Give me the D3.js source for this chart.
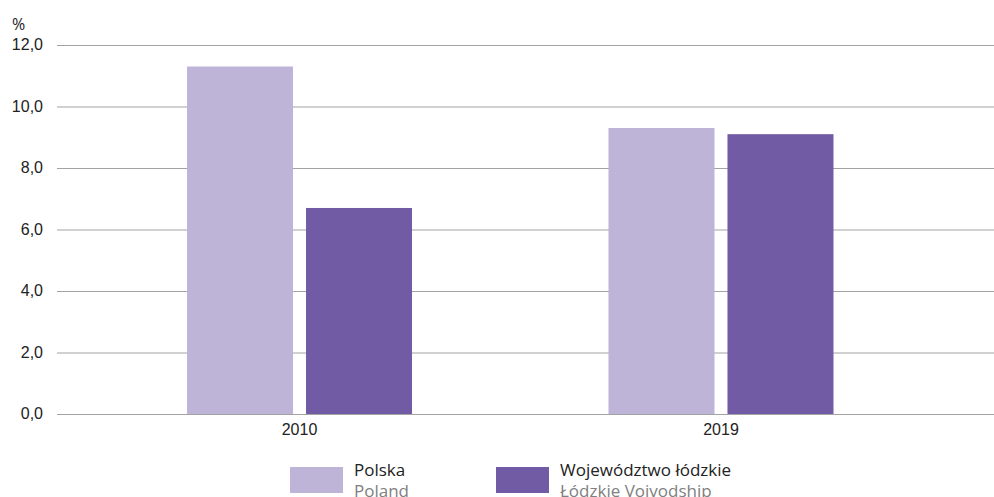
<!DOCTYPE html>
<html>
<head>
<meta charset="utf-8">
<script src="https://cdn.jsdelivr.net/npm/d3@7"></script>
<style>
  html, body { margin: 0; padding: 0; background: #fff; }
  svg { display: block; font-family: "Open Sans", sans-serif; }
</style>
</head>
<body>
<svg id="chart" width="994" height="497"></svg>
<script>
// Years on the category axis
const years = ["2010", "2019"];
// Series: Poland and Łódzkie Voivodship (%)
const seriesKeys = ["polska", "lodzkie"];
const seriesNames = ["Polska", "Województwo łódzkie"];
const seriesNamesEn = ["Poland", "Łódzkie Voivodship"];
const polskaValues = [11.3, 9.3];
const lodzkieValues = [6.7, 9.1];
const yTicks = [0, 2, 4, 6, 8, 10, 12];
const colors = ["#bdb4d7", "#715ba5"];

const svg = d3.select("#chart");
const plotLeft = 57, plotRight = 994, plotTop = 45, plotBottom = 414;

const y = d3.scaleLinear().domain([0, 12]).range([plotBottom, plotTop]);

const x0 = d3.scaleBand().domain(years).range([57, 963.5])
  .paddingInner(0.4662).paddingOuter(0.3085);
const x1 = d3.scaleBand().domain(seriesKeys).range([0, x0.bandwidth()])
  .paddingInner(0.1092).paddingOuter(0);
const color = d3.scaleOrdinal().domain(seriesKeys).range(colors);

const fmt = v => d3.format(".1f")(v).replace(".", ",");

// Gridlines and y tick labels
const yAxis = d3.axisLeft(y).tickValues(yTicks).tickSize(-(plotRight - plotLeft)).tickFormat(fmt);
const gy = svg.append("g").attr("transform", `translate(${plotLeft},0)`).call(yAxis);
gy.select(".domain").remove();
gy.selectAll(".tick line").attr("stroke", "#a3a3a3").attr("stroke-width", 1.2);
gy.selectAll(".tick text").attr("font-size", 16).attr("fill", "#222").attr("dy", "0.3em")
  .attr("x", 43 - plotLeft);

svg.append("text").attr("x", 12).attr("y", 30).attr("font-size", 16).attr("fill", "#222").text("%");

// Bars
const data = years.map((yr, i) => ({ year: yr, values: [
  { key: "polska", value: polskaValues[i] },
  { key: "lodzkie", value: lodzkieValues[i] }
]}));

svg.append("g").selectAll("g").data(data).join("g")
  .attr("transform", d => `translate(${x0(d.year)},0)`)
  .selectAll("rect").data(d => d.values).join("rect")
  .attr("x", d => x1(d.key))
  .attr("width", x1.bandwidth())
  .attr("y", d => y(d.value))
  .attr("height", d => y(0) - y(d.value))
  .attr("fill", d => color(d.key));

// X axis labels
const xAxis = d3.axisBottom(x0).tickSize(0).tickPadding(10);
const gx = svg.append("g").attr("transform", `translate(0,${plotBottom})`).call(xAxis);
gx.select(".domain").remove();
gx.selectAll(".tick text").attr("font-size", 16).attr("fill", "#222");

// Legend
const legendX = [290, 496];
const lg = svg.append("g").selectAll("g").data(seriesKeys).join("g")
  .attr("transform", (d, i) => `translate(${legendX[i]},467)`);
lg.append("rect").attr("width", 53).attr("height", 26).attr("fill", d => color(d));
lg.append("text").attr("x", 64).attr("y", 9).attr("font-size", 17).attr("fill", "#222")
  .text((d, i) => seriesNames[i]);
lg.append("text").attr("x", 64).attr("y", 30).attr("font-size", 17).attr("fill", "#808080")
  .text((d, i) => seriesNamesEn[i]);
</script>
</body>
</html>
